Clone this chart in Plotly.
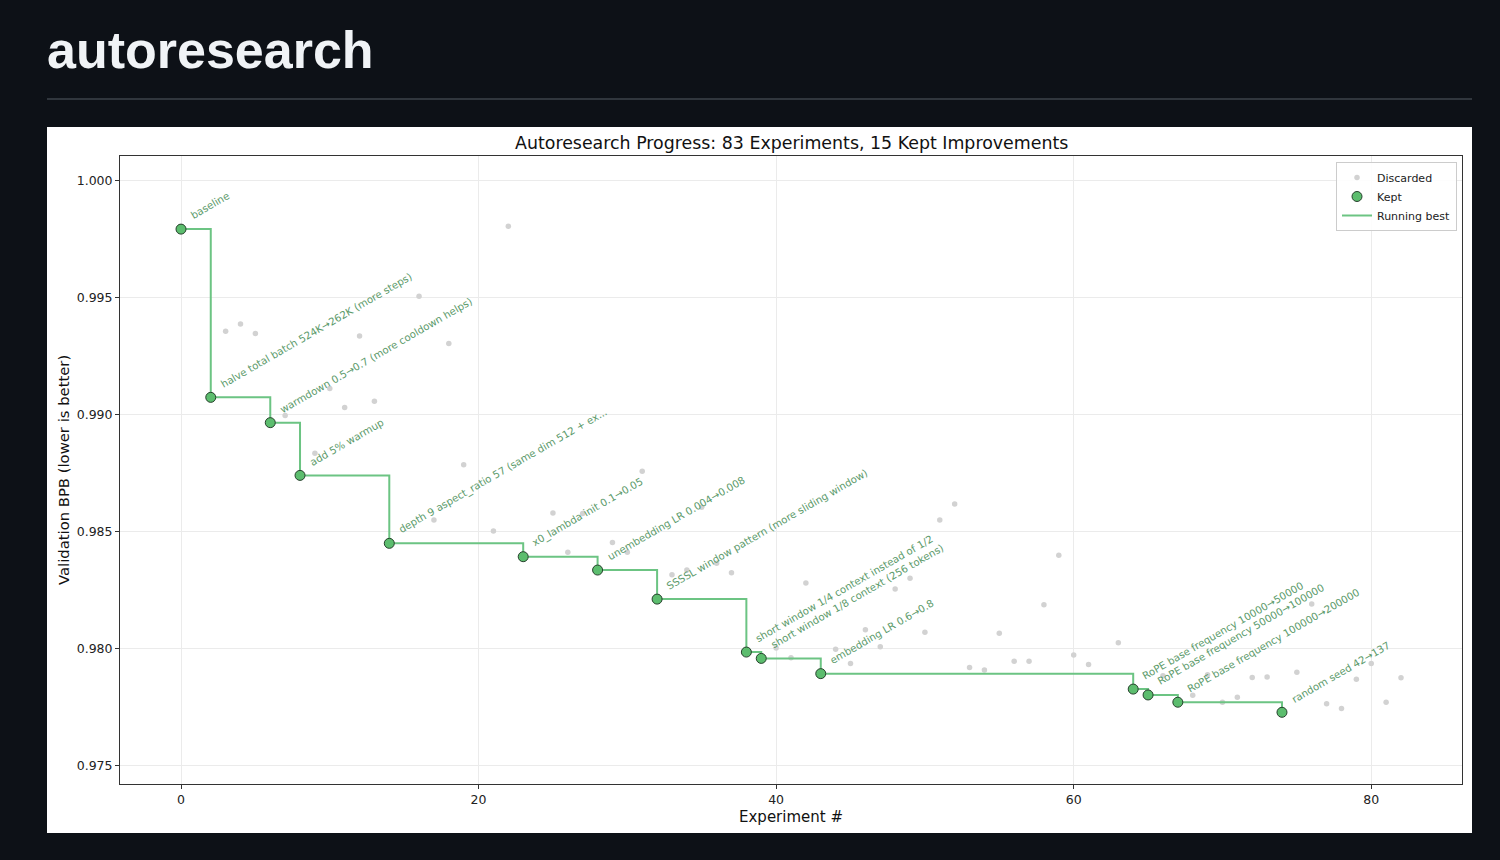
import plotly.graph_objects as go

# --- DATA ---
# kept improvements: experiment index, validation bpb, description
kept_x = [0, 2, 6, 8, 14, 23, 28, 32, 38, 39, 43, 64, 65, 67, 74]
kept_bpb = [0.99791, 0.99073, 0.98965, 0.98740, 0.98450, 0.98393, 0.98336, 0.98212,
            0.97986, 0.97959, 0.97894, 0.97828, 0.97803, 0.97772, 0.97729]
kept_labels = [
    "baseline",
    "halve total batch 524K→262K (more steps)",
    "warmdown 0.5→0.7 (more cooldown helps)",
    "add 5% warmup",
    "depth 9 aspect_ratio 57 (same dim 512 + ex...",
    "x0_lambda init 0.1→0.05",
    "unembedding LR 0.004→0.008",
    "SSSSL window pattern (more sliding window)",
    "short window 1/4 context instead of 1/2",
    "short window 1/8 context (256 tokens)",
    "embedding LR 0.6→0.8",
    "RoPE base frequency 10000→50000",
    "RoPE base frequency 50000→100000",
    "RoPE base frequency 100000→200000",
    "random seed 42→137",
]

# discarded experiments
disc_x = [3, 4, 5, 7, 9, 10, 11, 12, 13, 16, 17, 18, 19, 21, 22, 25, 26, 27, 29, 30,
          31, 33, 34, 35, 36, 37, 40, 41, 42, 44, 45, 46, 47, 48, 49, 50, 51, 52, 53,
          54, 55, 56, 57, 58, 59, 60, 61, 63, 66, 68, 69, 70, 71, 72, 73, 75, 76, 77,
          78, 79, 80, 81, 82]
disc_bpb = [0.99355, 0.99386, 0.99346, 0.98996, 0.98835, 0.99111, 0.99030, 0.99335,
            0.99056, 0.99504, 0.98550, 0.99303, 0.98785, 0.98503, 0.99803, 0.98580,
            0.98412, 0.98577, 0.98454, 0.98412, 0.98758, 0.98316, 0.98336, 0.98604,
            0.98365, 0.98324, 0.98003, 0.97962, 0.98281, 0.97998, 0.97937, 0.98081,
            0.98009, 0.98255, 0.98301, 0.98071, 0.98550, 0.98618, 0.97920, 0.97910,
            0.98066, 0.97947, 0.97947, 0.98188, 0.98399, 0.97973, 0.97933, 0.98026,
            0.97885, 0.97802, 0.97889, 0.97772, 0.97793, 0.97878, 0.97880, 0.97900,
            0.98191, 0.97766, 0.97745, 0.97870, 0.97937, 0.97772, 0.97876]

x_ticks = [0, 20, 40, 60, 80]

n_experiments = 83
chart_title = f"Autoresearch Progress: {n_experiments} Experiments, {len(kept_x)} Kept Improvements"

# --- COLOURS / FONTS ---
page_bg = "#0d1117"
green_fill = "#5cbd6e"
green_line = "#6cc483"
green_text = "#5b9a6a"
mpl_font = "DejaVu Sans"

# plot area in pixels (figure 1500x860)
L, R, T, B = 120, 1462, 156, 784
W, H = R - L, B - T


def px(x):
    return (x - L) / W


def py(y):
    return (B - y) / H


fig = go.Figure()

fig.add_trace(go.Scatter(
    x=disc_x, y=disc_bpb, mode="markers", name="Discarded",
    marker=dict(color="#d2d2d2", size=5.5),
    legendrank=1, hoverinfo="skip"
))

fig.add_trace(go.Scatter(
    x=kept_x, y=kept_bpb, mode="lines", line_shape="hv", name="Running best",
    line=dict(color=green_line, width=2),
    legendrank=3, hoverinfo="skip"
))

fig.add_trace(go.Scatter(
    x=kept_x, y=kept_bpb, mode="markers", name="Kept",
    marker=dict(color=green_fill, size=10, line=dict(color="#26402c", width=1)),
    legendrank=2
))

# rotated labels next to every kept point
annotations = []
for xv, yv, txt in zip(kept_x, kept_bpb, kept_labels):
    annotations.append(dict(
        x=xv, y=yv, xref="x", yref="y", text=txt, showarrow=False,
        textangle=-30, xanchor="left", yanchor="bottom",
        xshift=5, yshift=5,
        font=dict(family=mpl_font, size=10.2, color=green_text)
    ))

# page header and chart texts
annotations += [
    dict(x=px(45), y=py(50), xref="paper", yref="paper", text="<b>autoresearch</b>",
         showarrow=False, xanchor="left", yanchor="middle",
         font=dict(family="Liberation Sans", size=52, color="#f0f3f6")),
    dict(x=0.5, y=py(143), xref="paper", yref="paper", text=chart_title,
         showarrow=False, xanchor="center", yanchor="middle",
         font=dict(family=mpl_font, size=17.4, color="#111111")),
    dict(x=0.5, y=py(817), xref="paper", yref="paper", text="Experiment #",
         showarrow=False, xanchor="center", yanchor="middle",
         font=dict(family=mpl_font, size=15, color="#111111")),
    dict(x=px(63), y=py(470), xref="paper", yref="paper",
         text="Validation BPB (lower is better)", textangle=-90,
         showarrow=False, xanchor="center", yanchor="middle",
         font=dict(family=mpl_font, size=14.8, color="#111111")),
]

shapes = [
    # white panel behind the chart
    dict(type="rect", xref="paper", yref="paper", layer="below",
         x0=px(47), x1=px(1472), y0=py(833), y1=py(127),
         fillcolor="white", line=dict(width=0)),
    # divider under the header
    dict(type="line", xref="paper", yref="paper",
         x0=px(47), x1=px(1472), y0=py(99), y1=py(99),
         line=dict(color="#30363d", width=2)),
]

axis_common = dict(
    showgrid=True, gridcolor="#ebebeb", gridwidth=1, zeroline=False,
    showline=True, mirror=True, linecolor="#333333", linewidth=1,
    ticks="outside", ticklen=4, tickcolor="#333333",
    tickfont=dict(family=mpl_font, size=12.5, color="#222222"),
)

fig.update_layout(
    width=1500, height=860,
    margin=dict(l=L, r=1500 - R, t=T, b=860 - B),
    paper_bgcolor=page_bg,
    plot_bgcolor="white",
    showlegend=True,
    legend=dict(
        x=px(1457), y=py(162), xanchor="right", yanchor="top",
        bgcolor="rgba(255,255,255,0.9)", bordercolor="#cccccc", borderwidth=1,
        font=dict(family=mpl_font, size=11, color="#222222"),
        itemwidth=30, tracegroupgap=0
    ),
    xaxis=dict(range=[-4.1, 86.1], tickvals=x_ticks, **axis_common),
    yaxis=dict(range=[0.97423, 1.00103], tick0=0.975, dtick=0.005,
               tickformat=".3f", **axis_common),
    annotations=annotations,
    shapes=shapes,
)

# drop the default page margin so the figure fills the window
fig.write_html(
    "out.html",
    config={"displayModeBar": False},
    post_script="document.body.style.margin='0';document.body.style.background='" + page_bg + "';",
)
